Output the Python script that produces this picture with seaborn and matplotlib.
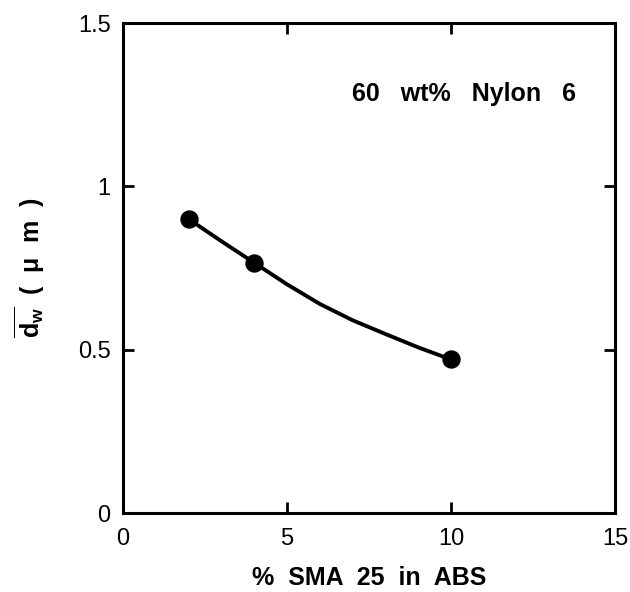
import matplotlib
matplotlib.use("Agg")
import matplotlib.pyplot as plt
import seaborn as sns
import pandas as pd

# measured points
sma_pct = [2, 4, 10]
dw_um = [0.90, 0.766, 0.47]

# smooth guide curve
curve_x = [2, 3, 4, 5, 6, 7, 8, 9, 10]
curve_y = [0.90, 0.832, 0.766, 0.700, 0.640, 0.590, 0.548, 0.507, 0.47]

xticks = [0, 5, 10, 15]
xtick_labels = ["0", "5", "10", "15"]
yticks = [0, 0.5, 1, 1.5]
ytick_labels = ["0", "0.5", "1", "1.5"]

sns.set_style("ticks")
plt.rcParams["font.family"] = ["Liberation Sans", "DejaVu Sans"]
plt.rcParams["mathtext.fontset"] = "custom"
plt.rcParams["mathtext.rm"] = "Liberation Sans"
plt.rcParams["mathtext.bf"] = "Liberation Sans:bold"
plt.rcParams["text.color"] = "black"
plt.rcParams["axes.labelcolor"] = "black"

pts = pd.DataFrame({"x": sma_pct, "y": dw_um})
curve = pd.DataFrame({"x": curve_x, "y": curve_y})

fig = plt.figure(figsize=(6.3, 5.92), dpi=100)
ax = fig.add_axes([123 / 630, 79 / 592, 492 / 630, 490 / 592])

sns.lineplot(data=curve, x="x", y="y", color="black", linewidth=2.8, ax=ax)
sns.scatterplot(data=pts, x="x", y="y", color="black", s=150, edgecolor="black", zorder=3, ax=ax)

ax.set_xlim(0, 15)
ax.set_ylim(0, 1.5)
ax.set_xticks(xticks)
ax.set_xticklabels(xtick_labels)
ax.set_yticks(yticks)
ax.set_yticklabels(ytick_labels)

for s in ax.spines.values():
    s.set_linewidth(2.2)
    s.set_color("black")
ax.tick_params(axis="both", direction="in", length=8, width=2, top=True, right=True,
               labelsize=17, colors="black")
ax.tick_params(axis="x", pad=11)
ax.tick_params(axis="y", pad=9)

ax.set_xlabel("%  SMA  25  in  ABS", fontsize=18, fontweight="bold", labelpad=11, color="black")
ax.set_ylabel(r"$\overline{\mathbf{d}_{\mathbf{w}}}$" + "  (  μ  m  )", fontsize=18,
              fontweight="bold", labelpad=22, color="black")

ax.text(6.98, 1.283, "60   wt%   Nylon   6", fontsize=18, fontweight="bold",
        va="center", ha="left", color="black")

fig.savefig("out.png", dpi=100)
